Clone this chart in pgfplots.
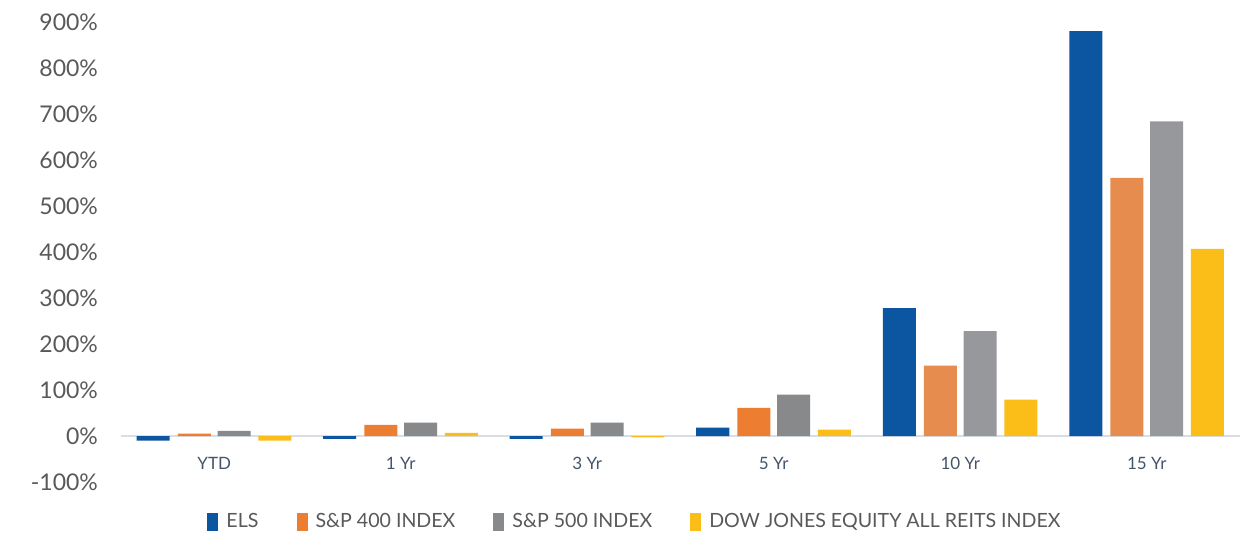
\documentclass[border=0pt]{standalone}
\usepackage{pgfplots}
\pgfplotsset{compat=1.18}
\usepackage{fontspec}
\setmainfont{Lato}

\definecolor{elsblue}{HTML}{0C55A0}
\definecolor{spfour}{HTML}{ED7D31}
\definecolor{spfourB}{HTML}{E58C4E}
\definecolor{spfive}{HTML}{88898B}
\definecolor{spfiveB}{HTML}{97989B}
\definecolor{djgold}{HTML}{FBBD17}
\definecolor{ticktxt}{HTML}{595959}
\definecolor{cattxt}{HTML}{44546A}
\definecolor{zeroline}{HTML}{D9DEE6}

\begin{document}
\begin{tikzpicture}
\begin{axis}[
    scale only axis,
    width=559.5pt, height=230pt,
    xmin=-0.5, xmax=5.5,
    ymin=-100, ymax=900,
    ytick={-100,0,...,900},
    yticklabel={\pgfmathprintnumber{\tick}\%},
    /pgf/number format/assume math mode=true,
    xtick={0,1,2,3,4,5},
    xticklabels={YTD,1 Yr,3 Yr,5 Yr,10 Yr,15 Yr},
    axis x line*=middle,
    axis y line*=left,
    x axis line style={-, draw=zeroline, line width=1pt},
    y axis line style={draw=none},
    major tick length=0pt,
    yticklabel style={font=\fontsize{11.5}{12}\selectfont, text=ticktxt, xshift=-8pt},
    xticklabel style={font=\fontsize{8.5}{9}\selectfont, text=cattxt, yshift=-7pt},
    ybar, bar width=0.177,
    clip=false,
    legend columns=4,
    legend style={draw=none, at={(0.462,-0.087)}, anchor=center,
        font=\fontsize{9.8}{10}\selectfont, text=ticktxt,
        nodes={inner xsep=4pt},
        /tikz/every even column/.append style={column sep=15pt}},
    legend image code/.code={\fill[#1] (0pt,-4.3pt) rectangle (5.5pt,4.3pt);},
]
\addplot[draw=none, fill=elsblue, bar shift=-0.327]
    coordinates {(0,-10) (1,-6) (2,-6) (3,18) (4,278) (5,880)};
\addlegendentry{ELS}
\addplot[draw=none, fill=spfour, bar shift=-0.107]
    coordinates {(0,5) (1,24) (2,16) (3,61)};
\addlegendentry{S\&P 400 INDEX}
\addplot[draw=none, fill=spfive, bar shift=0.107]
    coordinates {(0,11) (1,29) (2,29) (3,90)};
\addlegendentry{S\&P 500 INDEX}
\addplot[draw=none, fill=djgold, bar shift=0.325]
    coordinates {(0,-10) (1,7) (2,-3) (3,14) (4,79) (5,407)};
\addlegendentry{DOW JONES EQUITY ALL REITS INDEX}
\addplot[draw=none, fill=spfourB, bar shift=-0.107, forget plot]
    coordinates {(4,153) (5,561)};
\addplot[draw=none, fill=spfiveB, bar shift=0.107, forget plot]
    coordinates {(4,228) (5,684)};
\path (rel axis cs:-0.1081,-0.1196) rectangle (rel axis cs:1.0134,1.0478);
\end{axis}
\end{tikzpicture}
\end{document}
